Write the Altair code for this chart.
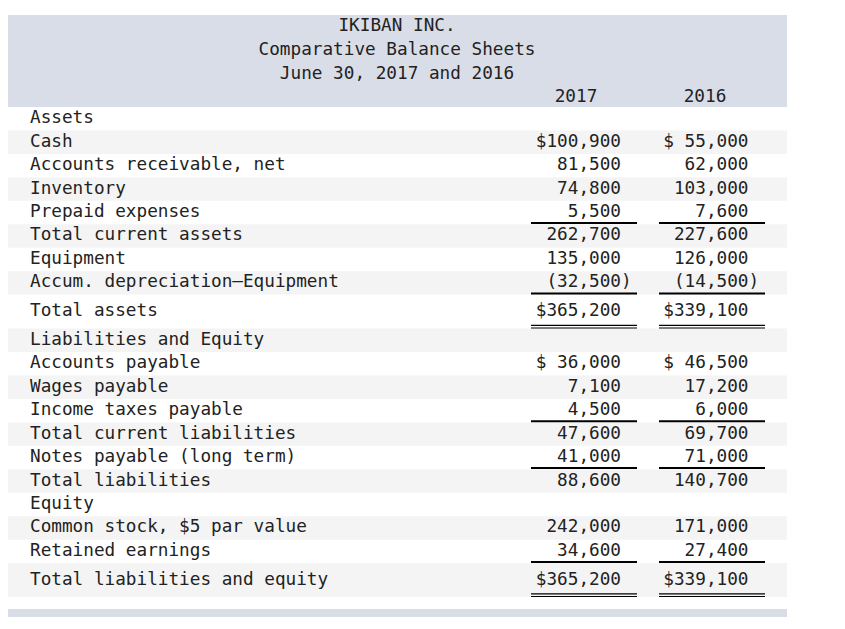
import altair as alt
import pandas as pd

# ---------------- data ----------------
title_lines = ["IKIBAN INC.", "Comparative Balance Sheets", "June 30, 2017 and 2016"]
years = ["2017", "2016"]

labels = [
    "Assets",
    "Cash",
    "Accounts receivable, net",
    "Inventory",
    "Prepaid expenses",
    "Total current assets",
    "Equipment",
    "Accum. depreciation\u2014Equipment",
    "Total assets",
    "Liabilities and Equity",
    "Accounts payable",
    "Wages payable",
    "Income taxes payable",
    "Total current liabilities",
    "Notes payable (long term)",
    "Total liabilities",
    "Equity",
    "Common stock, $5 par value",
    "Retained earnings",
    "Total liabilities and equity",
]
v2017 = [None, 100900, 81500, 74800, 5500, 262700, 135000, -32500, 365200,
         None, 36000, 7100, 4500, 47600, 41000, 88600,
         None, 242000, 34600, 365200]
v2016 = [None, 55000, 62000, 103000, 7600, 227600, 126000, -14500, 339100,
         None, 46500, 17200, 6000, 69700, 71000, 140700,
         None, 171000, 27400, 339100]

dollar_rows = ["Cash", "Total assets", "Accounts payable", "Total liabilities and equity"]
single_rule_rows = ["Prepaid expenses", "Accum. depreciation\u2014Equipment",
                    "Income taxes payable", "Notes payable (long term)", "Retained earnings"]
double_rule_rows = ["Total assets", "Total liabilities and equity"]

# ---------------- layout ----------------
W, H = 829, 613
UNIT = 23.45          # px per row unit
Y0 = 99               # chart px of first body row top
TALL = 1.45
FONT = "DejaVu Sans Mono"
FS = 17.7
CHAR = FS * 0.602
TXT = "#222222"
HEAD_BG = "#d9dde7"
STRIPE = "#f4f4f4"
NB = "\u00a0"
DY_BODY = -0.5
DY_HEAD = 1


def px_to_u(px):
    return (px - Y0) / UNIT


yscale = alt.Scale(domain=[px_to_u(0), px_to_u(H)], range=[0, H], nice=False, zero=False)
Y = lambda f: alt.Y(f, type="quantitative", scale=yscale, axis=None)
Y2 = lambda f: alt.Y2(f)


def fmt(v, dollar):
    if v is None or pd.isna(v):
        return ""
    v = int(v)
    body = f"({-v:,})" if v < 0 else f"{v:,}"
    if dollar:
        body = "$" + body.rjust(7, NB)
    return body


rows = []
top = 0.0
for i, lab in enumerate(labels):
    h = TALL if lab in double_rule_rows else 1.0
    rows.append(dict(
        label=lab, top=top, bot=top + h, mid=top + h / 2,
        stripe=(i % 2 == 1),
        t17=fmt(v2017[i], lab in dollar_rows),
        t16=fmt(v2016[i], lab in dollar_rows),
        neg17=(v2017[i] is not None and v2017[i] < 0),
        neg16=(v2016[i] is not None and v2016[i] < 0),
    ))
    top += h
df = pd.DataFrame(rows)
body_bottom = top

rules = []
for r in rows:
    if r["label"] in single_rule_rows:
        rules.append(dict(u=r["bot"] - 1.2 / UNIT, w=2.0))
    if r["label"] in double_rule_rows:
        rules.append(dict(u=r["bot"] - 3.2 / UNIT, w=1.2))
        rules.append(dict(u=r["bot"] - 0.6 / UNIT, w=1.2))
rules_df = pd.DataFrame(rules)

bands = pd.DataFrame([
    dict(u=px_to_u(7), u2=0.0),
    dict(u=body_bottom + 12 / UNIT, u2=body_bottom + 20 / UNIT),
])

title_df = pd.DataFrame(dict(
    text=title_lines,
    u=[px_to_u(17 + 24 * i) for i in range(len(title_lines))],
))
year_df = pd.DataFrame(dict(text=years, u=[px_to_u(88)] * 2))

X_LEFT, X_RIGHT = 0, 779
LABEL_X = 22
VAL_X = [613, 740.5]      # right edge of the digits
YEAR_X = [568, 697]
RULE_X = [(523, 629), (651, 757)]

layers = []
layers.append(alt.Chart(bands).mark_rect(color=HEAD_BG).encode(
    x=alt.value(X_LEFT), x2=alt.value(X_RIGHT), y=Y("u"), y2=Y2("u2")))
layers.append(alt.Chart(df[df.stripe]).mark_rect(color=STRIPE).encode(
    x=alt.value(X_LEFT), x2=alt.value(X_RIGHT), y=Y("top"), y2=Y2("bot")))

head_kw = dict(font=FONT, fontSize=FS, color=TXT, baseline="middle", dy=DY_HEAD)
txt_kw = dict(font=FONT, fontSize=FS, color=TXT, baseline="middle", dy=DY_BODY)
layers.append(alt.Chart(title_df).mark_text(align="center", **head_kw).encode(
    x=alt.value(389), y=Y("u"), text="text:N"))
for k in range(2):
    layers.append(alt.Chart(year_df.iloc[[k]]).mark_text(align="center", **head_kw).encode(
        x=alt.value(YEAR_X[k]), y=Y("u"), text="text:N"))
layers.append(alt.Chart(df).mark_text(align="left", **txt_kw).encode(
    x=alt.value(LABEL_X), y=Y("mid"), text="label:N"))
for k, (col, neg) in enumerate([("t17", "neg17"), ("t16", "neg16")]):
    layers.append(alt.Chart(df[~df[neg]]).mark_text(align="right", **txt_kw).encode(
        x=alt.value(VAL_X[k]), y=Y("mid"), text=f"{col}:N"))
    layers.append(alt.Chart(df[df[neg]]).mark_text(align="right", **txt_kw).encode(
        x=alt.value(VAL_X[k] + CHAR), y=Y("mid"), text=f"{col}:N"))
for (xa, xb) in RULE_X:
    layers.append(alt.Chart(rules_df).mark_rule(color="#000000").encode(
        x=alt.value(xa), x2=alt.value(xb), y=Y("u"),
        strokeWidth=alt.StrokeWidth("w:Q", scale=None, legend=None)))

chart = alt.layer(*layers).properties(
    width=W, height=H, padding=0, autosize=alt.AutoSizeParams(type="none"),
    background="white",
).configure_view(stroke=None)

chart.save("out.html", embed_options={"renderer": "svg", "actions": False})
